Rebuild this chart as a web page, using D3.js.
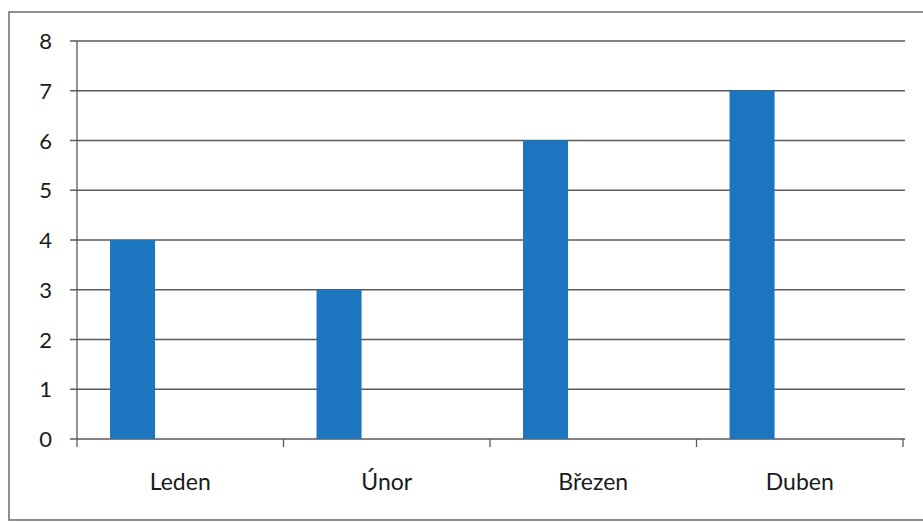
<!DOCTYPE html>
<html>
<head>
<meta charset="utf-8">
<script src="https://cdn.jsdelivr.net/npm/d3@7"></script>
<style>
  body { margin: 0; background: #fff; }
  svg { display: block; }
  text { font-family: Lato, "Open Sans", sans-serif; fill: #1a1a1a; }
</style>
</head>
<body>
<svg width="923" height="522"></svg>
<script>
// data
var months = ['Leden', 'Únor', 'Březen', 'Duben'];
var values = [4, 3, 6, 7];
var yTicks = [0, 1, 2, 3, 4, 5, 6, 7, 8];

const svg = d3.select('svg');

// outer frame (scanned chart border)
svg.append('path')
	.attr('d', 'M930,12 H9 V520 H930')
	.attr('fill', 'none')
	.attr('stroke', '#6a6a6a')
	.attr('stroke-width', 1.5);

// plot area (note: "top" is taken by window.top)
var plotLeft = 77, plotRight = 903, plotTop = 41, plotBottom = 439;

const xScale = d3.scaleBand().domain(months).range([plotLeft, plotRight]).padding(0);
const yScale = d3.scaleLinear().domain([0, 8]).range([plotBottom, plotTop]);

// grid lines
svg.selectAll('.grid')
	.data(yTicks)
	.enter()
	.append('line')
	.attr('x1', plotLeft - 7)
	.attr('x2', plotRight + 2)
	.attr('y1', d => yScale(d))
	.attr('y2', d => yScale(d))
	.attr('stroke', '#5a5a5a')
	.attr('stroke-width', 1.3);

// y axis line
svg.append('line')
	.attr('x1', plotLeft).attr('x2', plotLeft)
	.attr('y1', plotTop).attr('y2', plotBottom)
	.attr('stroke', '#5a5a5a')
	.attr('stroke-width', 1.3);

// x ticks (category boundaries)
var bounds = months.map(m => xScale(m)).concat([plotRight]);
svg.selectAll('.xtick')
	.data(bounds)
	.enter()
	.append('line')
	.attr('x1', d => d).attr('x2', d => d)
	.attr('y1', plotBottom).attr('y2', plotBottom + 8)
	.attr('stroke', '#5a5a5a')
	.attr('stroke-width', 1.3);

// bars - sit left of centre like the first of two series
var bw = xScale.bandwidth();
svg.selectAll('.bar')
	.data(values)
	.enter()
	.append('rect')
	.classed('bar', true)
	.attr('x', (d, i) => xScale(months[i]) + bw * 0.16)
	.attr('width', bw * 0.218)
	.attr('y', d => yScale(d))
	.attr('height', d => plotBottom - yScale(d))
	.attr('fill', '#1c76bf');

// y labels
svg.selectAll('.ylab')
	.data(yTicks)
	.enter()
	.append('text')
	.attr('x', 52)
	.attr('y', d => yScale(d) + 8)
	.attr('text-anchor', 'end')
	.style('font-size', '22px')
	.text(d => d);

// x labels
svg.selectAll('.xlab')
	.data(months)
	.enter()
	.append('text')
	.attr('x', d => xScale(d) + bw / 2)
	.attr('y', 490)
	.attr('text-anchor', 'middle')
	.style('font-size', '23px')
	.text(d => d);
</script>
</body>
</html>
